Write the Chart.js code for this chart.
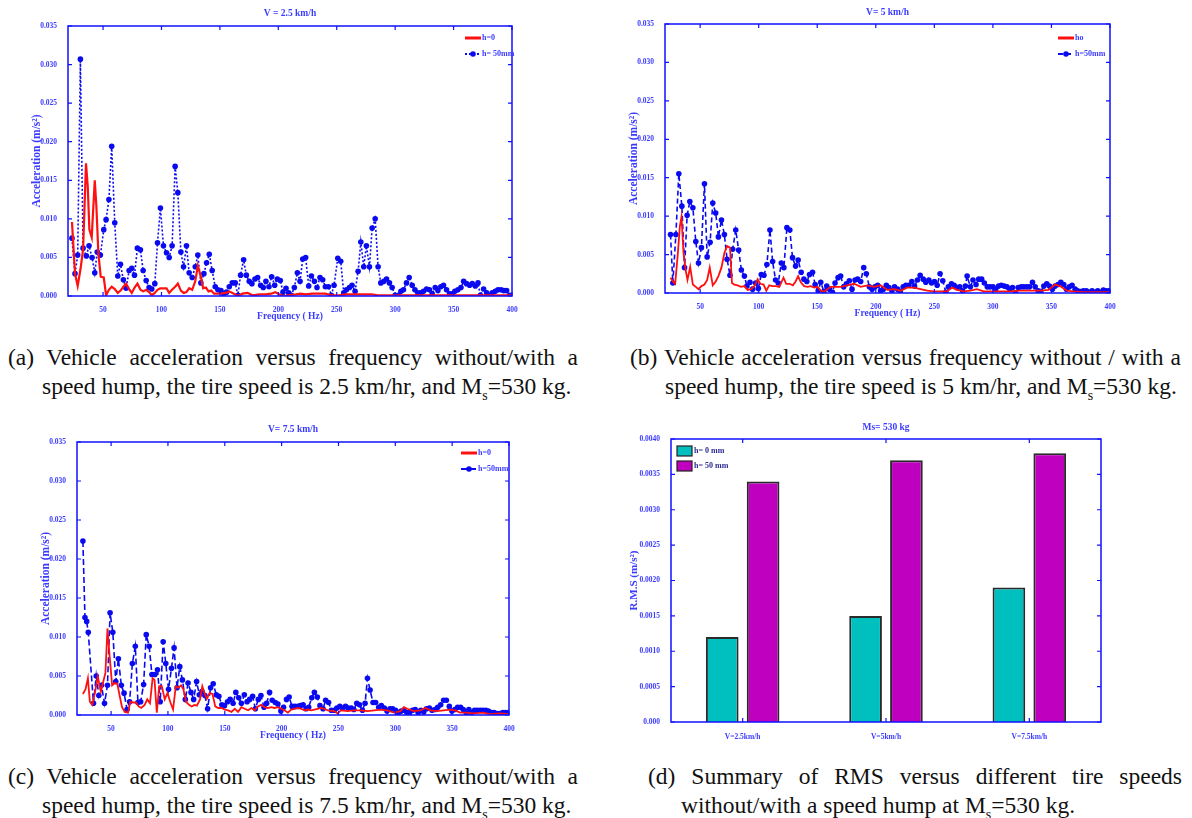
<!DOCTYPE html>
<html>
<head>
<meta charset="utf-8">
<script src="https://cdn.jsdelivr.net/npm/chart.js@4.4.1/dist/chart.umd.min.js"></script>
<style>
  body { margin: 0; background: #fff; width: 1192px; height: 818px; position: relative; overflow: hidden; }
  canvas { position: absolute; }
  .cap { position: absolute; font-family: "Liberation Serif", serif; font-size: 23.5px; line-height: 29px; color: #111; white-space: nowrap; }
  .just { text-align: justify; text-align-last: justify; }
  sub { font-size: 14px; line-height: 0; }
</style>
</head>
<body>
<canvas id="chA" width="530" height="330" style="left:0;top:0"></canvas>
<canvas id="chB" width="520" height="330" style="left:600px;top:0"></canvas>
<canvas id="chC" width="530" height="330" style="left:0;top:420px"></canvas>
<canvas id="chD" width="520" height="330" style="left:600px;top:420px"></canvas>

<div class="cap just" style="left:8px;top:343px;width:570px">(a) Vehicle acceleration versus frequency without/with a</div>
<div class="cap" style="left:42px;top:372px">speed hump, the tire speed is 2.5 km/hr, and M<sub>s</sub>=530 kg.</div>
<div class="cap just" style="left:630px;top:343px;width:551px">(b) Vehicle acceleration versus frequency without / with a</div>
<div class="cap" style="left:665px;top:372px">speed hump, the tire speed is 5 km/hr, and M<sub>s</sub>=530 kg.</div>
<div class="cap just" style="left:8px;top:762px;width:570px">(c) Vehicle acceleration versus frequency without/with a</div>
<div class="cap" style="left:42px;top:791px">speed hump, the tire speed is 7.5 km/hr, and M<sub>s</sub>=530 kg.</div>
<div class="cap just" style="left:648px;top:762px;width:534px">(d) Summary of RMS versus different tire speeds</div>
<div class="cap" style="left:681px;top:791px">without/with a speed hump at M<sub>s</sub>=530 kg.</div>

<script>
// ---- data (frequency Hz, acceleration m/s^2) ----
const freqTicks = [50, 100, 150, 200, 250, 300, 350, 400];
const accTicks = [0, 0.005, 0.010, 0.015, 0.020, 0.025, 0.030, 0.035];
const accTickLabels = ['0.000', '0.005', '0.010', '0.015', '0.020', '0.025', '0.030', '0.035'];

// V = 2.5 km/h
const v25_h0 = [[23.4,0.0096],[26,0.0029],[28.3,0.0013],[30.6,0.0034],[32.9,0.006],[35.4,0.0172],[36.9,0.0142],[38.3,0.0086],[40.3,0.0076],[42.9,0.015],[44.3,0.0116],[46,0.0055],[48,0.0025],[50.6,0.0024],[52.6,0.0001],[55,0.0008],[57.4,0.0012],[60,0.0009],[62.6,0.0004],[65,0.0007],[67.4,0.0012],[69.7,0.0016],[72.3,0.0009],[74.6,0.0004],[77,0.0011],[79.4,0.0016],[82,0.0008],[84.3,0.0006],[86.9,0.0008],[89.4,0.0005],[91.7,0.0001],[94.3,0.0004],[96.6,0.0008],[99,0.001],[101.7,0.001],[104.3,0.001],[106.6,0.0004],[109,0.0008],[111.7,0.0012],[114,0.0016],[116.6,0.0007],[119,0.0004],[121.4,0.0005],[123.7,0.001],[126.3,0.0008],[128.9,0.0019],[131.1,0.0039],[133.7,0.0025],[135.7,0.001],[138,0.0011],[140.3,0.0006],[142.6,0.0007],[145,0.0003],[149.4,0.0003],[155,0.0004],[158,0.0006],[162,0.0003],[165.4,0],[169.4,0.0003],[173.7,0.0004],[178,0.0001],[184,0.0002],[189.4,0.0002],[194,0.0003],[197.4,0.0005],[201,0.0002],[205,0],[209,0.0001],[215,0.0002],[219,0.0003],[223.4,0.0002],[229,0.0003],[234.6,0.0003],[240,0.0003],[246,0.0001],[252,0.0001],[258,0.0002],[264,0.0002],[269,0.0002],[275,0.0002],[280,0.0002],[285,0.0001],[300,0.0001],[330,0.0001],[360,0.0001],[400,0.0001]];
const v25_h50 = [[23.4,0.0075],[26,0.0029],[28.3,0.0053],[30.6,0.0307],[32.9,0.0062],[35.7,0.0052],[38,0.0065],[40.6,0.005],[42.9,0.003],[45,0.0057],[47.7,0.0053],[50.6,0.0086],[52.6,0.0099],[55,0.0125],[57.4,0.0194],[60,0.0095],[62.6,0.0026],[64.9,0.0041],[67.4,0.0021],[69.7,0.001],[72.3,0.0033],[74.6,0.0036],[76.9,0.0027],[79.4,0.0062],[82,0.006],[84.3,0.0033],[86.9,0.002],[89.4,0.0011],[91.7,0.0009],[94.3,0.0016],[96.6,0.0069],[99.1,0.0114],[101.7,0.0065],[104.3,0.0056],[106.6,0.005],[109.1,0.0065],[111.7,0.0168],[114,0.0134],[116.6,0.0057],[118.9,0.0038],[121.4,0.0065],[123.7,0.003],[126.3,0.0024],[128.9,0.0038],[131.1,0.0053],[133.7,0.0017],[136.3,0.0029],[138.6,0.0043],[140.9,0.0054],[143.4,0.0033],[146,0.0012],[148.3,0.0008],[150.9,0.0007],[153.1,0.0003],[155.7,0.0005],[158,0.0012],[160.6,0.0017],[163.1,0.0017],[165.4,0.0001],[167.7,0.0027],[170.3,0.0047],[172.6,0.0027],[175.1,0.0019],[177.4,0.0016],[180,0.0022],[182.3,0.0024],[184.9,0.0014],[187.1,0.0011],[189.4,0.0019],[192,0.0012],[194.3,0.0025],[196.9,0.0014],[199.1,0.0022],[201.7,0.002],[204,0.0005],[206.6,0.001],[208.9,0.0004],[211.1,0.0001],[213.7,0.0011],[216.3,0.003],[218.6,0.0019],[220.9,0.0048],[223.4,0.005],[226,0.0013],[228.3,0.0026],[230.9,0.0019],[233.1,0.0011],[235.7,0.0024],[238,0.0021],[240.3,0.0012],[242.9,0.0012],[245.4,0.0001],[247.7,0.0014],[250.9,0.0049],[253.4,0.0045],[256,0.0004],[258.3,0.0008],[260.9,0.0011],[263.1,0.0014],[265.7,0.0006],[268.3,0.0032],[270.6,0.007],[273.1,0.0038],[275.4,0.0065],[278,0.0038],[280.3,0.0088],[282.9,0.01],[285.4,0.0038],[287.7,0.0017],[290.3,0.0019],[292.6,0.0022],[295.1,0.0017],[297.4,0.0011],[300,0.0001],[302.6,0.0001],[304.9,0.0006],[307.1,0.0008],[309.7,0.0017],[312,0.0024],[314.6,0.0014],[316.9,0.0008],[319.4,0.0004],[322,0.0004],[324.3,0.0006],[326.9,0.0009],[329.4,0.0008],[331.7,0.0003],[334.3,0.0011],[336.6,0.0007],[339.1,0.0012],[341.4,0.0014],[344,0.0008],[346.6,0.0003],[348.9,0.0003],[351.1,0.0006],[353.7,0.0008],[356.3,0.0011],[358.6,0.0019],[361.1,0.0016],[363.7,0.0014],[366,0.0016],[368.6,0.0013],[370.9,0.0017],[372.9,0.0001],[375.7,0.0009],[378.3,0.0004],[380.9,0.0001],[383.1,0.0004],[385.7,0.0006],[388,0.0008],[390.6,0.0008],[392.9,0.0007],[395.4,0.0007],[398,0.0001]];

// V = 5 km/h
const v5_h0 = [[24.7,0.002],[26.7,0.0015],[28.7,0.0012],[31,0.0052],[32.7,0.0087],[34.1,0.0099],[35.8,0.0052],[37.5,0.0031],[39.2,0.0017],[41.5,0.0034],[43.8,0.0011],[46.3,0.0008],[48.6,0.0005],[51.1,0.0009],[53.7,0.0011],[56,0.0017],[58.2,0.0033],[60.8,0.001],[63.3,0.0015],[65.6,0.0022],[68.2,0.0033],[70.7,0.0052],[73,0.0061],[75.5,0.0059],[77.2,0.0013],[79.2,0.0011],[82,0.001],[84.9,0.0008],[87.8,0.0009],[90.6,0.0004],[93.4,0.0005],[96.3,0.0009],[99.1,0.0018],[101.4,0.0012],[104.2,0.0011],[106.5,0.0003],[109,0.001],[111.9,0.0009],[114.7,0.0009],[117.6,0.0008],[121.2,0.002],[123.5,0.0012],[126.4,0.0012],[129.2,0.001],[131.5,0.0015],[133.7,0.0022],[136,0.0014],[138.8,0.0009],[141.7,0.0008],[144.5,0.0009],[147.4,0.0007],[150.2,0.0008],[153,0.0003],[155.9,0.0002],[158.7,0.0005],[161.5,0.0008],[164.4,0.0008],[170,0.0008],[175.7,0.001],[181.4,0.0012],[187.1,0.0008],[192.8,0.001],[198.5,0.0008],[204.1,0.001],[209.8,0.0004],[215.5,0.0005],[221.2,0.0003],[226.8,0.0007],[232.5,0.0007],[238.2,0.0005],[243.9,0.0003],[249.5,0.0002],[255.2,0.0002],[260.9,0.0002],[265.2,0.0007],[269.4,0.0004],[275.1,0.0002],[280.8,0.0003],[286.4,0.0005],[292.1,0.0002],[297.8,0.0002],[306.3,0.0002],[314.8,0.0002],[323.3,0.0003],[331.9,0.0003],[340.4,0.0003],[347.5,0.0004],[353.1,0.0011],[357.4,0.0009],[363.1,0.0003],[368.8,0.0002],[377.3,0.0001],[385.8,0.0001],[399.1,0.0001]];
const v5_h50 = [[24.7,0.0076],[26.7,0.0013],[29.3,0.0076],[31.8,0.0155],[34.4,0.0113],[36.7,0.0033],[38.9,0.0101],[41.2,0.0119],[43.8,0.0111],[46.3,0.0067],[48.6,0.0039],[51.1,0.0059],[53.7,0.0142],[56,0.0047],[58.5,0.0066],[60.8,0.0117],[63.3,0.0104],[65.6,0.0073],[68.2,0.0095],[70.7,0.0076],[73,0.0044],[75.5,0.0023],[77.8,0.0057],[80.4,0.0082],[82.9,0.0056],[85.2,0.003],[87.8,0.0022],[90,0.0009],[92.6,0.0014],[94.8,0.0005],[97.4,0.0013],[99.7,0.0006],[102.2,0.0024],[104.5,0.0023],[107,0.0037],[109.6,0.0082],[111.9,0.0041],[114.4,0.0017],[116.7,0.0013],[119.3,0.0039],[121.5,0.0033],[124.1,0.0085],[126.6,0.0082],[128.9,0.0046],[131.5,0.0035],[133.7,0.0043],[136.3,0.0027],[138.6,0.0018],[141.1,0.0015],[143.4,0.0024],[146,0.0027],[148.2,0.0011],[150.8,0.0003],[153,0.0014],[155.6,0.0002],[158.1,0.0009],[160.4,0.0005],[163,0.0001],[165.2,0.0013],[167.8,0.002],[170,0.0022],[172.6,0.0008],[174.9,0.0012],[177.4,0.0016],[179.7,0.0005],[182.3,0.0017],[184.5,0.0018],[187.1,0.0015],[189.7,0.0033],[191.9,0.0025],[194.5,0.0008],[196.8,0.0005],[199.3,0.0008],[201.6,0.001],[204.1,0.0003],[206.4,0.0005],[209,0.001],[211.2,0.0007],[213.8,0.0003],[216,0.0008],[218.6,0.0005],[220.9,0.0002],[223.4,0.0008],[225.7,0.001],[228.3,0.001],[230.8,0.0015],[233.1,0.0009],[235.6,0.0017],[237.9,0.0023],[240.5,0.0018],[242.7,0.0014],[245.3,0.0017],[247.6,0.0013],[250.1,0.0015],[252.4,0.001],[254.9,0.0025],[257.2,0.0016],[259.8,0.0001],[262,0.0008],[264.6,0.0012],[266.9,0.001],[269.4,0.0007],[271.7,0.0008],[274.2,0.0003],[276.5,0.0009],[278,0.0022],[280.8,0.0008],[283,0.0017],[285.6,0.0011],[287.9,0.0018],[290.4,0.0018],[292.7,0.0013],[295.2,0.0008],[297.5,0.0008],[300.1,0.0008],[302.3,0.0005],[304.9,0.0009],[307.2,0.001],[309.7,0.0009],[312,0.0008],[314.5,0.0005],[316.8,0.0007],[319.4,0],[321.6,0.0007],[324.2,0.0008],[326.5,0.0008],[329,0.0008],[331.3,0.0008],[333.8,0.0014],[336.1,0.0008],[338.7,0.0003],[340.9,0.0002],[343.5,0.0009],[346,0.0012],[348.3,0.0009],[350.8,0.0005],[353.1,0.0009],[355.7,0.0011],[358,0.0014],[360.5,0.0011],[362.8,0.0005],[365.3,0.0008],[367.6,0.001],[370.2,0.0005],[372.4,0.0003],[375,0.0002],[377.3,0.0003],[379.8,0.0003],[382.1,0.0001],[384.7,0.0003],[386.9,0.0001],[389.5,0.0003],[391.8,0.0001],[394.3,0.0004],[396.6,0.0003],[399.1,0.0003]];

// V = 7.5 km/h
const v75_h0 = [[25.2,0.0027],[27.5,0.0033],[29.6,0.0047],[31.3,0.0017],[33.4,0.0013],[35.7,0.0028],[38.3,0.0049],[41,0.003],[43.3,0.0044],[45,0.0054],[46.8,0.0111],[48.5,0.0079],[50.9,0.0038],[53.2,0.0041],[55.5,0.004],[57.6,0.0024],[59.6,0.001],[62,0.0004],[64.9,0.0003],[66.9,0.0017],[69.2,0.0016],[71.9,0.0016],[74.2,0.0011],[76.5,0.0009],[79.5,0.0013],[81.8,0.002],[84.2,0.0015],[86.5,0.0047],[88.2,0.0045],[90.2,0.0003],[92.3,0.0037],[94.6,0.0037],[97.2,0.002],[99.6,0.0028],[102.2,0.0016],[104.5,0.0007],[106.9,0.0037],[109.2,0.0035],[111.5,0.0038],[113.6,0.0033],[115.9,0.0017],[118.5,0.0013],[120.9,0.0011],[123.2,0.0013],[125.5,0.0012],[128.2,0.002],[130.2,0.0037],[132.2,0.0028],[134.3,0.0021],[136.6,0.0028],[139.2,0.0027],[141.6,0.0011],[144.2,0.0009],[147.1,0.0009],[150,0.0007],[152.9,0.0006],[155.9,0.0004],[158.8,0.0008],[161.7,0.0004],[164.6,0.001],[167.5,0.0008],[170.5,0.0006],[173.4,0.0009],[176.3,0.0006],[179.2,0.0011],[182.1,0.0013],[185,0.001],[188,0.0009],[190.9,0.001],[193.8,0.0009],[196.7,0.001],[199.6,0.0008],[202.5,0.0006],[205.5,0.0003],[208.4,0.0007],[211.3,0.0008],[214.2,0.0009],[217.1,0.0008],[220,0.0006],[223,0.0007],[225.9,0.0006],[228.8,0.0007],[231.7,0.0008],[234.6,0.0009],[237.5,0.0008],[240.5,0.0006],[246.3,0.0005],[249.2,0.0002],[252.1,0.0006],[258,0.0005],[263.8,0.0006],[269.6,0.0006],[275.5,0.0005],[281.3,0.0006],[287.1,0.0007],[293,0.0006],[298.8,0.0003],[304.6,0.0005],[307.5,0.001],[310.5,0.0008],[316.3,0.0005],[322.1,0.0006],[326.5,0.0009],[330.8,0.0006],[336.7,0.0005],[342.5,0.0006],[348.3,0.0007],[352.6,0.0006],[357,0.0003],[362.8,0.0003],[368.7,0.0002],[377.4,0.0003],[383.2,0.0001],[392,0.0002],[399.4,0.0001]];
const v75_h50 = [[25.2,0.0223],[27,0.0125],[28.5,0.012],[29.9,0.0106],[34.5,0.0015],[36.9,0.005],[39.2,0.0025],[41.5,0.0038],[44.2,0.0015],[46.8,0.0038],[49.1,0.0131],[51.5,0.0106],[54.1,0.0043],[56.4,0.0072],[59,0.0038],[61.4,0.0028],[64,0.0007],[66.3,0.0017],[68.7,0.0066],[71.3,0.0088],[73.6,0.0016],[76,0.0017],[78.6,0.0039],[80.9,0.0103],[83.5,0.0088],[85.9,0.0052],[88.5,0.0052],[90.8,0.0058],[93.2,0.0017],[95.8,0.0094],[98.1,0.0066],[100.5,0.0033],[103.1,0.006],[105.4,0.0086],[108,0.0035],[110.4,0.0062],[112.7,0.0045],[115.3,0.002],[117.7,0.0041],[120.3,0.0029],[122.6,0.002],[125.2,0.0043],[127.6,0.0026],[129.9,0.003],[132.5,0.0025],[134.9,0.0008],[137.5,0.0035],[139.8,0.004],[142.5,0.0026],[144.8,0.0024],[147.4,0.0013],[149.7,0.0012],[152.4,0.0017],[154.7,0.002],[157.3,0.0015],[159.7,0.0029],[162.3,0.0022],[164.6,0.0015],[167.2,0.0026],[169.6,0.0017],[171.9,0.002],[174.5,0.0024],[176.9,0.0008],[179.5,0.002],[181.8,0.0025],[184.5,0.001],[186.8,0.0015],[189.4,0.0029],[191.7,0.0019],[194.4,0.0016],[196.7,0.0014],[199.3,0.0005],[201.7,0.001],[204.3,0.002],[206.6,0.0023],[209.2,0.0011],[211.6,0.0011],[214.2,0.0011],[216.5,0.0012],[218.9,0.0013],[221.5,0.0008],[223.8,0.001],[226.5,0.0022],[228.8,0.0029],[231.4,0.0023],[233.7,0.0012],[236.4,0.0008],[238.7,0.0019],[241.3,0.0016],[243.7,0.0006],[246.3,0.0006],[248.6,0.0009],[251.2,0.0011],[253.6,0.0009],[256.2,0.0011],[258.5,0.0009],[261.2,0.0009],[263.5,0.0007],[266.1,0.0015],[268.5,0.0013],[271.1,0.0006],[273.4,0.0015],[275.5,0.0047],[277.8,0.0032],[280.4,0.0016],[282.7,0.0016],[285.4,0.001],[287.7,0.0012],[290.3,0.0009],[292.7,0.0005],[295.3,0.0008],[297.6,0.0008],[300.2,0.0006],[302.6,0.0003],[305.2,0.0005],[307.5,0.0006],[310.2,0.0003],[312.5,0.0003],[315.1,0.0006],[317.5,0.0007],[320.1,0.0003],[322.4,0.0006],[325,0.0004],[327.4,0.0008],[330,0.0009],[332.3,0.0006],[335,0.0007],[337.3,0.001],[339.9,0.0013],[342.5,0.0019],[344.9,0.0019],[347.5,0.0011],[349.8,0.0005],[352.4,0.0007],[354.8,0.001],[357.4,0.001],[359.7,0.0007],[362.4,0.0003],[364.7,0.0007],[367,0.0003],[369.7,0.0006],[372,0.0006],[374.6,0.0006],[377,0.0006],[379.6,0.0006],[381.9,0.0005],[384.6,0.0003],[386.9,0.0003],[389.5,0.0002],[391.8,0.0002],[394.5,0.0003],[396.8,0.0003],[399.4,0.0003]];

// RMS summary
const speedCats = ['V=2.5km/h', 'V=5km/h', 'V=7.5km/h'];
const rmsH0 = [0.0012, 0.0015, 0.0019];
const rmsH50 = [0.0034, 0.0037, 0.0038];
const rmsTicks = [0, 0.0005, 0.0010, 0.0015, 0.0020, 0.0025, 0.0030, 0.0035, 0.0040];
const rmsTickLabels = ['0.000', '0.0005', '0.0010', '0.0015', '0.0020', '0.0025', '0.0030', '0.0035', '0.0040'];

// ---- styling ----
const axisBlue = '#1010ff';
const textBlue = '#3b3bff';
const lineBlue = '#0a0af0';
const red = '#ff1010';
const serif = '"Liberation Serif", "Times New Roman", serif';

// box with inward ticks, panel title and a legend inside the axes
const panelBox = {
  id: 'panelBox',
  afterDraw(chart, args, o) {
    const ctx = chart.ctx, a = chart.chartArea;
    const xs = chart.scales.x, ys = chart.scales.y;
    ctx.save();
    ctx.strokeStyle = axisBlue;
    ctx.lineWidth = 1.5;
    ctx.strokeRect(a.left, a.top, a.right - a.left, a.bottom - a.top);
    ctx.lineWidth = 1.2;
    ctx.beginPath();
    xs.ticks.forEach((t, i) => {
      const px = xs.getPixelForTick(i);
      ctx.moveTo(px, a.bottom); ctx.lineTo(px, a.bottom - 4);
      ctx.moveTo(px, a.top); ctx.lineTo(px, a.top + 4);
    });
    ys.ticks.forEach((t, i) => {
      const py = ys.getPixelForTick(i);
      ctx.moveTo(a.left, py); ctx.lineTo(a.left + 4, py);
      ctx.moveTo(a.right, py); ctx.lineTo(a.right - 4, py);
    });
    ctx.stroke();

    ctx.fillStyle = textBlue;
    ctx.font = 'bold 9.5px ' + serif;
    ctx.textAlign = 'center';
    ctx.textBaseline = 'middle';
    ctx.fillText(o.title, (a.left + a.right) / 2, a.top - o.titleGap);

    // legend
    ctx.font = 'bold 8px ' + serif;
    ctx.textAlign = 'left';
    chart.data.datasets.forEach((ds, i) => {
      const x = o.legX, y = o.legY + i * o.legStep;
      if (o.bars) {
        ctx.fillStyle = ds.backgroundColor;
        ctx.fillRect(x, y - 5, 15, 10);
        ctx.strokeStyle = '#222';
        ctx.lineWidth = 1.2;
        ctx.strokeRect(x, y - 5, 15, 10);
        ctx.fillStyle = '#2a2a90';
      } else {
        ctx.strokeStyle = ds.borderColor;
        ctx.lineWidth = ds.pointRadius ? 2 : 3;
        ctx.setLineDash(ds.borderDash || []);
        ctx.beginPath(); ctx.moveTo(x, y); ctx.lineTo(x + 16, y); ctx.stroke();
        ctx.setLineDash([]);
        if (ds.pointRadius) {
          ctx.fillStyle = ds.borderColor;
          ctx.beginPath(); ctx.arc(x + 8, y, 2.8, 0, Math.PI * 2); ctx.fill();
        }
        ctx.fillStyle = textBlue;
      }
      ctx.fillText(ds.label, x + 17, y);
    });
    ctx.restore();
  }
};

function tickFont() { return { family: serif, size: 7.5, weight: 'bold' }; }

function linePanel(id, h0, h50, o) {
  new Chart(document.getElementById(id), {
    type: 'line',
    data: {
      datasets: [
        { label: o.lab0, data: h0.map(p => ({ x: p[0], y: p[1] })), borderColor: red,
          borderWidth: o.redW, pointRadius: 0, tension: 0 },
        { label: o.lab50, data: h50.map(p => ({ x: p[0], y: p[1] })), borderColor: lineBlue,
          borderWidth: 1.6, borderDash: o.dash, pointRadius: 2.8, pointBackgroundColor: lineBlue,
          pointBorderWidth: 0, tension: 0 }
      ]
    },
    plugins: [panelBox],
    options: {
      responsive: false,
      animation: false,
      layout: { padding: o.pad },
      plugins: {
        legend: { display: false },
        tooltip: { enabled: false },
        panelBox: { title: o.title, titleGap: o.titleGap, legX: o.legX, legY: o.legY, legStep: 16 }
      },
      scales: {
        x: {
          type: 'linear', min: 20, max: 400,
          afterBuildTicks: s => { s.ticks = freqTicks.map(v => ({ value: v })); },
          afterFit: s => { s.height = 26; },
          grid: { display: false }, border: { display: false },
          ticks: { color: textBlue, font: tickFont(), padding: 2, maxRotation: 0 },
          title: { display: true, text: 'Frequency ( Hz)', color: textBlue,
                   font: { family: serif, size: 9.5, weight: 'bold' }, padding: 0 }
        },
        y: {
          min: 0, max: 0.035,
          afterBuildTicks: s => { s.ticks = accTicks.map(v => ({ value: v })); },
          afterFit: s => { s.width = 38; },
          grid: { display: false }, border: { display: false },
          ticks: { color: textBlue, font: tickFont(), padding: 3,
                   callback: (v, i) => accTickLabels[i] },
          title: { display: true, text: 'Acceleration (m/s²)', color: textBlue,
                   font: { family: serif, size: 11.5, weight: 'bold' }, padding: 0 }
        }
      }
    }
  });
}

linePanel('chA', v25_h0, v25_h50, {
  title: 'V = 2.5 km/h', lab0: 'h=0', lab50: 'h= 50mm', dash: [2, 2], redW: 2.2,
  pad: { left: 30, right: 18, top: 26, bottom: 8 }, titleGap: 12, legX: 465, legY: 38
});
linePanel('chB', v5_h0, v5_h50, {
  title: 'V= 5 km/h', lab0: 'ho', lab50: 'h=50mm', dash: [5, 3], redW: 1.8,
  pad: { left: 27, right: 10, top: 24, bottom: 11 }, titleGap: 11, legX: 458, legY: 38
});
linePanel('chC', v75_h0, v75_h50, {
  title: 'V= 7.5 km/h', lab0: 'h=0', lab50: 'h=50mm', dash: [6, 3], redW: 1.8,
  pad: { left: 39, right: 21, top: 22, bottom: 9 }, titleGap: 12, legX: 461, legY: 33
});

new Chart(document.getElementById('chD'), {
  type: 'bar',
  data: {
    labels: speedCats,
    datasets: [
      { label: 'h= 0 mm', data: rmsH0, backgroundColor: '#00bfbf', borderColor: '#2a2a2a',
        borderWidth: 2, categoryPercentage: 0.57, barPercentage: 0.8 },
      { label: 'h= 50 mm', data: rmsH50, backgroundColor: '#bf00bf', borderColor: '#2a2a2a',
        borderWidth: 2, categoryPercentage: 0.57, barPercentage: 0.8 }
    ]
  },
  plugins: [panelBox],
  options: {
    responsive: false,
    animation: false,
    layout: { padding: { left: 28, right: 19, top: 19, bottom: 8 } },
    plugins: {
      legend: { display: false },
      tooltip: { enabled: false },
      panelBox: { title: 'Ms= 530 kg', titleGap: 11, legX: 77, legY: 31, legStep: 15, bars: true }
    },
    scales: {
      x: {
        afterFit: s => { s.height = 20; },
        grid: { display: false }, border: { display: false },
        ticks: { color: textBlue, font: tickFont(), padding: 3, maxRotation: 0 }
      },
      y: {
        min: 0, max: 0.004,
        afterBuildTicks: s => { s.ticks = rmsTicks.map(v => ({ value: v })); },
        afterFit: s => { s.width = 43; },
        grid: { display: false }, border: { display: false },
        ticks: { color: textBlue, font: tickFont(), padding: 3,
                 callback: (v, i) => rmsTickLabels[i] },
        title: { display: true, text: 'R.M.S (m/s²)', color: textBlue,
                 font: { family: serif, size: 11, weight: 'bold' }, padding: 0 }
      }
    }
  }
});
</script>
</body>
</html>
